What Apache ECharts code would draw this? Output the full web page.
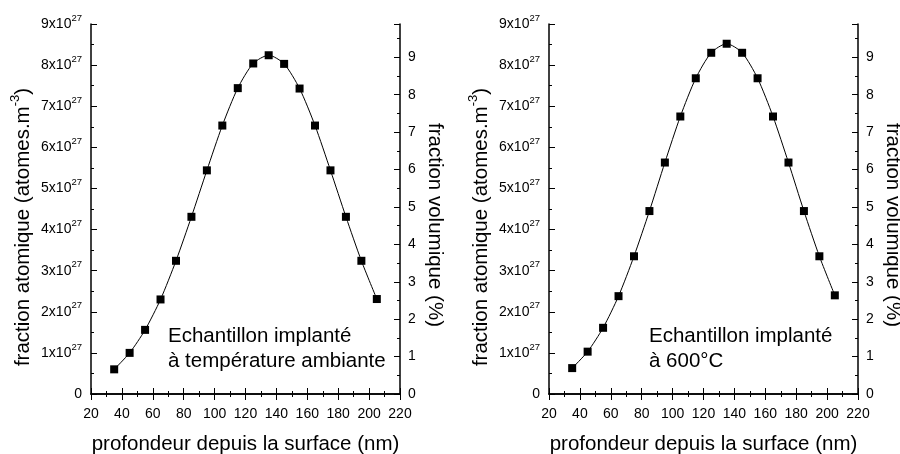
<!DOCTYPE html>
<html>
<head>
<meta charset="utf-8">
<script src="https://cdn.jsdelivr.net/npm/echarts@6/dist/echarts.min.js"></script>
<style>
html,body{margin:0;padding:0;background:#fff;}
#c{width:900px;height:454px;}
</style>
</head>
<body>
<div id="c"></div>
<script>
// depth (nm)
const depth = [35, 45, 55, 65, 75, 85, 95, 105, 115, 125, 135, 145, 155, 165, 175, 185, 195, 205];
// atomic fraction, units of 1e27 atoms/m^3
const ambient = [0.60, 1.00, 1.56, 2.30, 3.24, 4.31, 5.44, 6.53, 7.44, 8.04, 8.24, 8.03, 7.43, 6.53, 5.44, 4.31, 3.24, 2.31];
const hot600 = [0.63, 1.03, 1.61, 2.38, 3.35, 4.45, 5.63, 6.75, 7.68, 8.30, 8.52, 8.30, 7.68, 6.75, 5.63, 4.45, 3.35, 2.40];
const xTicks = [20, 40, 60, 80, 100, 120, 140, 160, 180, 200, 220];
const leftTicks = [0, 1, 2, 3, 4, 5, 6, 7, 8, 9];
const rightTicks = [0, 1, 2, 3, 4, 5, 6, 7, 8, 9];
const notes = [
  'Echantillon implanté\nà température ambiante',
  'Echantillon implanté\nà 600°C'
];
const xTitle = 'profondeur depuis la surface (nm)';
const yTitle = 'fraction atomique (atomes.m{s|-3})';
const y2Title = 'fraction volumique (%)';

const FONT = "'Liberation Sans', Arial, sans-serif";
const chart = echarts.init(document.getElementById('c'), null, {renderer: 'canvas'});

const grids = [
  {left: 91, top: 24, width: 309, height: 370, outerBoundsMode: 'none', containLabel: false},
  {left: 549, top: 24, width: 309, height: 370, outerBoundsMode: 'none', containLabel: false}
];
const axisLine = {show: true, lineStyle: {color: '#000', width: 1.5}};
const tick = {show: true, inside: true, length: 6, lineStyle: {color: '#000', width: 1}};
const minor = {show: true, splitNumber: 2, length: 3, lineStyle: {color: '#000', width: 1}};

const xAxes = [], yAxes = [], series = [], graphics = [];
const datasets = [ambient, hot600];
const leftGaps = [51, 53];
grids.forEach((g, i) => {
  xAxes.push({
    type: 'value', gridIndex: i, position: 'bottom',
    min: xTicks[0], max: xTicks[xTicks.length - 1], interval: xTicks[1] - xTicks[0],
    axisLine, axisTick: tick, minorTick: minor, splitLine: {show: false},
    axisLabel: {color: '#000', fontSize: 14, fontFamily: FONT, margin: 13},
    name: xTitle, nameLocation: 'middle', nameGap: 40,
    nameTextStyle: {color: '#000', fontSize: 20.5, fontFamily: FONT}
  });
  xAxes.push({
    type: 'value', gridIndex: i, position: 'top',
    min: xTicks[0], max: xTicks[xTicks.length - 1], interval: xTicks[1] - xTicks[0],
    axisLine, axisTick: tick, minorTick: minor, splitLine: {show: false},
    axisLabel: {show: false}
  });
  yAxes.push({
    type: 'value', gridIndex: i, position: 'left',
    min: leftTicks[0], max: leftTicks[leftTicks.length - 1], interval: 1,
    axisLine, axisTick: tick, minorTick: minor, splitLine: {show: false},
    axisLabel: {
      color: '#000', fontSize: 14, fontFamily: FONT, margin: 9, lineHeight: 22,
      formatter: v => v === 0 ? '0' : v + 'x10{s|27}',
      rich: {s: {fontSize: 9.5, fontFamily: FONT, color: '#000', verticalAlign: 'top', lineHeight: 12}}
    },
    name: yTitle, nameLocation: 'middle', nameGap: leftGaps[i], nameRotate: 90,
    nameTextStyle: {
      color: '#000', fontSize: 20.5, fontFamily: FONT, lineHeight: 28, padding: [0, 36, 0, 0],
      rich: {s: {fontSize: 13, fontFamily: FONT, color: '#000', verticalAlign: 'top', lineHeight: 14}}
    }
  });
  yAxes.push({
    type: 'value', gridIndex: i, position: 'right',
    min: 0, max: 9.89, interval: 1,
    axisLine, axisTick: tick, minorTick: minor, splitLine: {show: false},
    axisLabel: {
      color: '#000', fontSize: 14, fontFamily: FONT, margin: 8,
      formatter: v => rightTicks.indexOf(v) >= 0 ? String(v) : ''
    },
    name: y2Title, nameLocation: 'middle', nameGap: 24, nameRotate: -90,
    nameTextStyle: {color: '#000', fontSize: 20.5, fontFamily: FONT, padding: [0, 0, 0, 32]}
  });
  series.push({
    type: 'line', xAxisIndex: i * 2, yAxisIndex: i * 2,
    data: depth.map((d, k) => [d, datasets[i][k]]),
    smooth: 0.25, symbol: 'rect', symbolSize: 8,
    lineStyle: {color: '#000', width: 1},
    itemStyle: {color: '#000'},
    silent: true, animation: false
  });
  graphics.push({
    type: 'text', x: i === 0 ? 168 : 649, y: 324,
    style: {text: notes[i], fill: '#000', fontSize: 20.5, fontFamily: FONT, lineHeight: 25, verticalAlign: 'top'}
  });
});

chart.setOption({
  animation: false,
  grid: grids,
  xAxis: xAxes,
  yAxis: yAxes,
  series,
  graphic: graphics
});
</script>
</body>
</html>
